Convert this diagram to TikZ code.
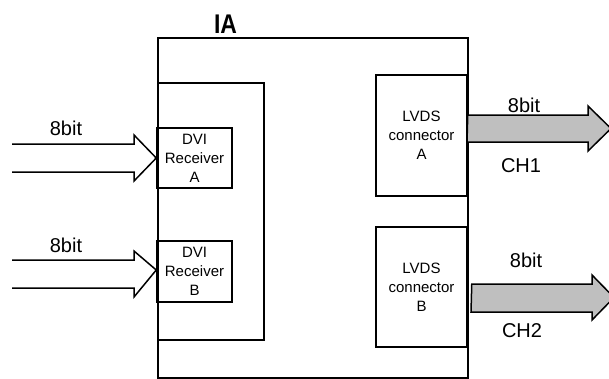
\documentclass[tikz,border=0pt]{standalone}
\usepackage{fontspec}
\setmainfont{Liberation Sans}
\usepackage{tikz}
\usetikzlibrary{positioning}

\begin{document}
\begin{tikzpicture}[x=1pt, y=-1pt, line width=1.5pt,
  blk/.style={draw, rectangle, inner sep=0pt, align=center,
    font=\fontsize{15}{19}\selectfont},
  lbl/.style={inner sep=0pt, anchor=base, font=\fontsize{20}{24}\selectfont},
  bus/.style={draw, line join=miter}]
  \useasboundingbox (0,0) rectangle (609,378);

  % IA board and inner frame
  \node[draw, rectangle, minimum width=310, minimum height=340, anchor=north west]
    (ia) at (157,37) {};
  \node[lbl, font=\fontsize{27}{30}\selectfont\bfseries] (iatitle) at (225.5,33)
    {\scalebox{0.85}[1]{IA}};
  \node[draw, rectangle, minimum width=106, minimum height=257, anchor=north west]
    (frame) at (157,82) {};

  % DVI receivers
  \node[blk, minimum width=75, minimum height=60] (rxA) at (194.5,158) {DVI\\Receiver\\A};
  \node[blk, minimum width=75, minimum height=61] (rxB) at (194.5,271.5) {DVI\\Receiver\\B};

  % LVDS connectors
  \node[blk, minimum width=91, minimum height=121] (lvA) at (421.5,135.5) {LVDS\\connector\\A};
  \node[blk, minimum width=91, minimum height=120] (lvB) at (421.5,287) {LVDS\\connector\\B};

  % Input buses
  \coordinate (tipA) at (rxA.west);
  \draw[bus] (12,144) -- (134,144) -- (134,135) -- (tipA) -- (134,181) -- (134,172) -- (12,172);
  \node[lbl] (inA) at (66,135) {8bit};
  \coordinate (tipB) at ([yshift=1.5]rxB.west);
  \draw[bus] (12,260) -- (134,260) -- (134,251) -- (tipB) -- (134,297) -- (134,288) -- (12,288);
  \node[lbl] (inB) at (66,252) {8bit};

  % Output buses
  \coordinate (outA) at (lvA.east |- 0,128.5);
  \draw[bus, fill=gray!50] (outA) ++(0,-13.5) -- (588,115) -- (588,106) -- (611,128.5)
    -- (588,151) -- (588,142) -- (467,142) -- cycle;
  \node[lbl] (bitA) at (524,112) {8bit};
  \node[lbl] (chA) at (521,172) {CH1};
  \coordinate (outB) at ([xshift=4]lvB.east |- 0,298);
  \draw[bus, fill=gray!50] (outB) ++(0,-14) -- (592,284) -- (592,275) -- (614,297.5)
    -- (592,320) -- (592,312) -- (471,312) -- cycle;
  \node[lbl] (bitB) at (526,267) {8bit};
  \node[lbl] (chB) at (522,337) {CH2};
\end{tikzpicture}
\end{document}
